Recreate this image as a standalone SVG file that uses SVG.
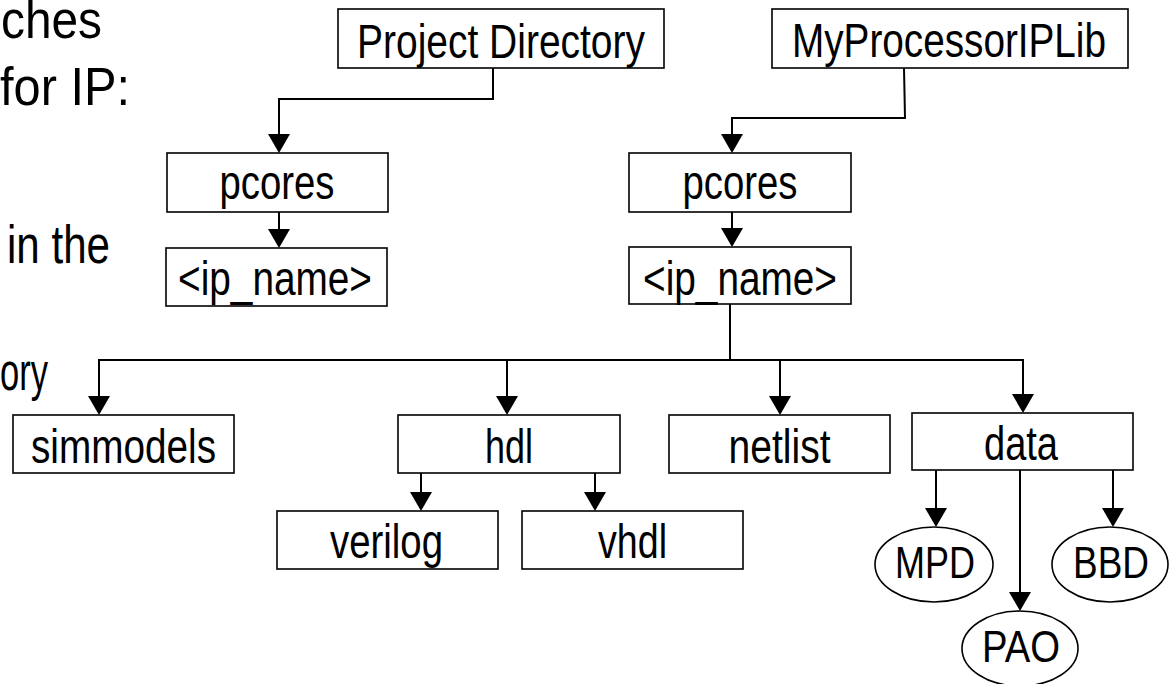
<svg xmlns="http://www.w3.org/2000/svg" width="1169" height="684" viewBox="0 0 1169 684">
  <style>
    .box { fill: #fff; stroke: #000; stroke-width: 1.6; }
    .oval { fill: #fff; stroke: #000; stroke-width: 1.6; }
    .lbl { font-family: "Liberation Sans", Arial, sans-serif; font-size: 48px; fill: #000; text-anchor: middle; }
    .olbl { font-family: "Liberation Sans", Arial, sans-serif; font-size: 45px; fill: #000; text-anchor: middle; }
    .side { font-family: "Liberation Sans", Arial, sans-serif; font-size: 54px; fill: #000; }
    .wire { fill: none; stroke: #000; stroke-width: 2; }
    .arrow { fill: none; stroke: #000; stroke-width: 2; marker-end: url(#head); }
  </style>
  <defs>
    <marker id="head" markerUnits="userSpaceOnUse" markerWidth="19" markerHeight="22" viewBox="0 0 19 22" refX="15" refY="11" orient="auto">
      <path d="M0,0 L19,11 L0,22 Z" fill="#000"/>
    </marker>
  </defs>

  <rect width="1169" height="684" fill="#fff"/>

  <!-- body text running along the left margin -->
  <g id="side-text">
    <text class="side" x="1" y="38" textLength="101" lengthAdjust="spacingAndGlyphs">ches</text>
    <text class="side" x="0" y="105" textLength="130" lengthAdjust="spacingAndGlyphs">for IP:</text>
    <text class="side" x="7" y="263" textLength="103" lengthAdjust="spacingAndGlyphs">in the</text>
    <text class="side" x="0" y="390" textLength="48" lengthAdjust="spacingAndGlyphs">ory</text>
  </g>

  <!-- connectors -->
  <g id="connectors">
    <polyline class="arrow" points="493,68 493,99 279,99 279,149"/>
    <polyline class="arrow" points="904,68 905,118 732,118 732,149"/>
    <line class="arrow" x1="279" y1="212" x2="279" y2="244"/>
    <line class="arrow" x1="732" y1="212" x2="732" y2="243"/>
    <line class="wire" x1="730" y1="304" x2="730" y2="361" stroke-width="1.5"/>
    <line class="wire" x1="98" y1="360" x2="1024" y2="360"/>
    <line class="arrow" x1="99" y1="360" x2="99" y2="411"/>
    <line class="arrow" x1="507" y1="360" x2="507" y2="411"/>
    <line class="arrow" x1="780" y1="360" x2="780" y2="411"/>
    <line class="arrow" x1="1023" y1="360" x2="1023" y2="409"/>
    <line class="arrow" x1="421" y1="473" x2="421" y2="507"/>
    <line class="arrow" x1="595" y1="473" x2="595" y2="507"/>
    <line class="arrow" x1="936" y1="470" x2="936" y2="523"/>
    <line class="arrow" x1="1020" y1="470" x2="1020" y2="607"/>
    <line class="arrow" x1="1113" y1="470" x2="1113" y2="523"/>
  </g>

  <g id="project-directory">
    <rect class="box" x="338" y="9" width="326" height="59"/>
    <text class="lbl" x="501" y="58" textLength="288" lengthAdjust="spacingAndGlyphs">Project Directory</text>
  </g>
  <g id="my-processor-ip-lib">
    <rect class="box" x="772" y="9" width="356" height="59"/>
    <text class="lbl" x="949" y="57" font-size="47" textLength="314" lengthAdjust="spacingAndGlyphs">MyProcessorIPLib</text>
  </g>

  <g id="pcores-project">
    <rect class="box" x="167" y="153" width="221" height="59"/>
    <text class="lbl" x="277" y="199" textLength="115" lengthAdjust="spacingAndGlyphs">pcores</text>
  </g>
  <g id="pcores-lib">
    <rect class="box" x="629" y="153" width="222" height="59"/>
    <text class="lbl" x="740" y="199" textLength="115" lengthAdjust="spacingAndGlyphs">pcores</text>
  </g>

  <g id="ip-name-project">
    <rect class="box" x="166" y="248" width="221" height="58"/>
    <text class="lbl" x="275" y="295" textLength="194" lengthAdjust="spacingAndGlyphs">&lt;ip_name&gt;</text>
  </g>
  <g id="ip-name-lib">
    <rect class="box" x="629" y="247" width="222" height="57"/>
    <text class="lbl" x="740" y="295" textLength="194" lengthAdjust="spacingAndGlyphs">&lt;ip_name&gt;</text>
  </g>

  <g id="simmodels">
    <rect class="box" x="13" y="415" width="221" height="58"/>
    <text class="lbl" x="123.5" y="463" textLength="185" lengthAdjust="spacingAndGlyphs">simmodels</text>
  </g>
  <g id="hdl">
    <rect class="box" x="398" y="415" width="222" height="58"/>
    <text class="lbl" x="509" y="463" textLength="48" lengthAdjust="spacingAndGlyphs">hdl</text>
  </g>
  <g id="netlist">
    <rect class="box" x="669" y="415" width="221" height="58"/>
    <text class="lbl" x="779.5" y="463" textLength="102" lengthAdjust="spacingAndGlyphs">netlist</text>
  </g>
  <g id="data">
    <rect class="box" x="912" y="413" width="221" height="57"/>
    <text class="lbl" x="1021" y="460" textLength="74" lengthAdjust="spacingAndGlyphs">data</text>
  </g>

  <g id="verilog">
    <rect class="box" x="277" y="511" width="221" height="58"/>
    <text class="lbl" x="386.5" y="558" textLength="113" lengthAdjust="spacingAndGlyphs">verilog</text>
  </g>
  <g id="vhdl">
    <rect class="box" x="522" y="511" width="221" height="58"/>
    <text class="lbl" x="632.5" y="558" textLength="69" lengthAdjust="spacingAndGlyphs">vhdl</text>
  </g>

  <g id="mpd">
    <ellipse class="oval" cx="934" cy="564.5" rx="59" ry="37.5"/>
    <text class="olbl" x="935" y="578" textLength="80" lengthAdjust="spacingAndGlyphs">MPD</text>
  </g>
  <g id="bbd">
    <ellipse class="oval" cx="1110" cy="564.5" rx="58" ry="37.5"/>
    <text class="olbl" x="1111" y="578" textLength="76" lengthAdjust="spacingAndGlyphs">BBD</text>
  </g>
  <g id="pao">
    <ellipse class="oval" cx="1020" cy="648.5" rx="58" ry="37.5"/>
    <text class="olbl" x="1021" y="662" textLength="78" lengthAdjust="spacingAndGlyphs">PAO</text>
  </g>
</svg>
